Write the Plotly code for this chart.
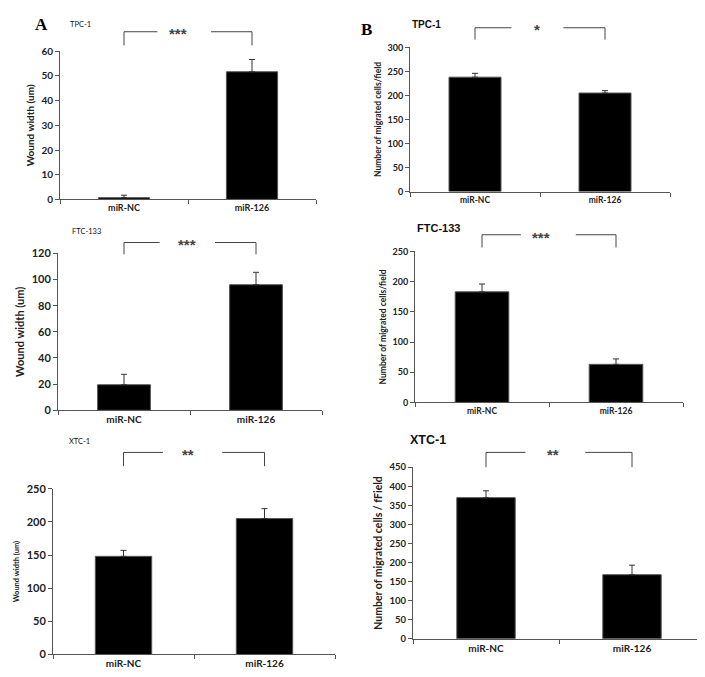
import plotly.graph_objects as go

W, H = 705, 677
groups = ["miR-NC", "miR-126"]

# values per panel
a_tpc_vals = [0.7, 51.7]; a_tpc_err = [1.0, 5.0]
a_ftc_vals = [19.5, 96.0]; a_ftc_err = [8.0, 9.5]
a_xtc_vals = [148.0, 205.0]; a_xtc_err = [9.0, 15.0]
b_tpc_vals = [238.0, 205.0]; b_tpc_err = [8.0, 5.0]
b_ftc_vals = [183.0, 63.0]; b_ftc_err = [13.0, 9.0]
b_xtc_vals = [370.0, 168.0]; b_xtc_err = [18.0, 25.0]

a_ticks_tpc = [0, 10, 20, 30, 40, 50, 60]
a_ticks_ftc = [0, 20, 40, 60, 80, 100, 120]
a_ticks_xtc = [0, 50, 100, 150, 200, 250]
b_ticks_tpc = [0, 50, 100, 150, 200, 250, 300]
b_ticks_ftc = [0, 50, 100, 150, 200, 250]
b_ticks_xtc = [0, 50, 100, 150, 200, 250, 300, 350, 400, 450]

FONT = "Lato"

panels = [
    dict(v=a_tpc_vals, e=a_tpc_err, t=a_ticks_tpc, box=(52, 308, 37, 188),
         yt="Wound width (um)", ytf=10, tf=10, xf=9, stand=4,
         name="TPC-1", nx=60, ny=10, nf=7.5, nbold=False,
         stars="***", br=(1.132, 1.04, 0.26, 0.68, 0.42), sf=15),
    dict(v=a_ftc_vals, e=a_ftc_err, t=a_ticks_ftc, box=(50, 314, 243, 403),
         yt="Wound width (um)", ytf=11, tf=11, xf=10, stand=4,
         name="FTC-133", nx=62, ny=221, nf=7.5, nbold=False,
         stars="***", br=(1.069, 0.994, 0.27, 0.69, 0.48), sf=15),
    dict(v=a_xtc_vals, e=a_xtc_err, t=a_ticks_xtc, box=(45, 327, 483, 652),
         yt="Wound width (um)", ytf=7.5, tf=11, xf=10, stand=6,
         name="XTC-1", nx=59, ny=435, nf=7.5, nbold=False,
         stars="**", br=(1.219, 1.136, 0.28, 0.70, 0.46), sf=15),
    dict(v=b_tpc_vals, e=b_tpc_err, t=b_ticks_tpc, box=(402, 662, 33, 180),
         yt="Number of migrated cells/field", ytf=8.5, tf=9, xf=8.5, stand=4,
         name="TPC-1", nx=402, ny=10, nf=10, nbold=True,
         stars="*", br=(1.136, 1.054, 0.28, 0.68, 0.48), sf=15),
    dict(v=b_ftc_vals, e=b_ftc_err, t=b_ticks_ftc, box=(407, 675, 241, 395),
         yt="Number of migrated cells/field", ytf=8.5, tf=9, xf=8.5, stand=4,
         name="FTC-133", nx=407, ny=217, nf=11, nbold=True,
         stars="***", br=(1.11, 1.026, 0.29, 0.70, 0.44), sf=15),
    dict(v=b_xtc_vals, e=b_xtc_err, t=b_ticks_xtc, box=(405, 697, 461, 636),
         yt="Number of migrated cells / fField", ytf=10.5, tf=9.5, xf=10, stand=4,
         name="XTC-1", nx=400, ny=433, nf=12.5, nbold=True,
         stars="**", br=(1.086, 1.0, 0.27, 0.68, 0.46), sf=15),
]

fig = go.Figure()
shapes = []
annotations = []
layout = {}

for i, p in enumerate(panels):
    n = "" if i == 0 else str(i + 1)
    xa, ya = "x" + n, "y" + n
    x0, x1, yt0, yb0 = p["box"]
    fig.add_trace(go.Bar(
        x=groups, y=p["v"], xaxis=xa, yaxis=ya, width=0.4,
        marker=dict(color="#000000", line=dict(color="#555555", width=1)),
        error_y=dict(type="data", array=p["e"], symmetric=False, arrayminus=[0, 0],
                     color="#333333", thickness=1, width=3),
        showlegend=False,
    ))
    layout["xaxis" + n] = dict(
        domain=[x0 / W, x1 / W], anchor=ya, type="category",
        range=[-0.5, 1.5], tickson="boundaries", ticks="outside", ticklen=4,
        tickcolor="#555", showline=True, linecolor="#555", linewidth=1,
        showgrid=False,
        tickfont=dict(family=FONT, size=p["xf"], color="#222", weight="bold"),
        fixedrange=True,
    )
    layout["yaxis" + n] = dict(
        domain=[1 - yb0 / H, 1 - yt0 / H], anchor=xa,
        range=[0, p["t"][-1]], tickvals=p["t"], ticks="outside", ticklen=4,
        tickcolor="#555", showline=True, linecolor="#555", linewidth=1,
        showgrid=False, zeroline=False,
        tickfont=dict(family=FONT, size=p["tf"], color="#222", weight="bold"),
        title=dict(text=p["yt"],
                   font=dict(family=FONT, size=p["ytf"], color="#222", weight="bold"),
                   standoff=p["stand"]),
        fixedrange=True,
    )
    top, bot, gl, gr, sx = p["br"]
    xref, yref = xa, ya + " domain"
    line = dict(color="#444", width=1)
    shapes += [
        dict(type="line", xref=xref, yref=yref, x0=0, x1=0, y0=bot, y1=top, line=line),
        dict(type="line", xref=xref, yref=yref, x0=0, x1=gl, y0=top, y1=top, line=line),
        dict(type="line", xref=xref, yref=yref, x0=gr, x1=1, y0=top, y1=top, line=line),
        dict(type="line", xref=xref, yref=yref, x0=1, x1=1, y0=bot, y1=top, line=line),
    ]
    annotations.append(dict(xref=xref, yref=yref, x=sx, y=top - 0.015, text="<b>%s</b>" % p["stars"],
                            showarrow=False, yanchor="middle", xanchor="center",
                            font=dict(family="Liberation Sans", size=p["sf"], color="#444")))
    nm = "<b>%s</b>" % p["name"] if p["nbold"] else p["name"]
    annotations.append(dict(xref="paper", yref="paper", x=p["nx"] / W, y=1 - p["ny"] / H,
                            text=nm, showarrow=False, xanchor="left", yanchor="middle",
                            font=dict(family="Liberation Sans" if p["nbold"] else FONT,
                                      size=p["nf"], color="#111",
                                      weight="bold" if p["nbold"] else "normal")))

annotations.append(dict(xref="paper", yref="paper", x=25 / W, y=1 - 10 / H, text="<b>A</b>",
                        showarrow=False, xanchor="left", yanchor="middle",
                        font=dict(family="Liberation Serif", size=17, color="#000")))
annotations.append(dict(xref="paper", yref="paper", x=351 / W, y=1 - 15 / H, text="<b>B</b>",
                        showarrow=False, xanchor="left", yanchor="middle",
                        font=dict(family="Liberation Serif", size=17, color="#000")))

fig.update_layout(
    width=W, height=H, margin=dict(l=0, r=0, t=0, b=0),
    paper_bgcolor="white", plot_bgcolor="white",
    shapes=shapes, annotations=annotations, **layout,
)

fig.write_html("out.html")
